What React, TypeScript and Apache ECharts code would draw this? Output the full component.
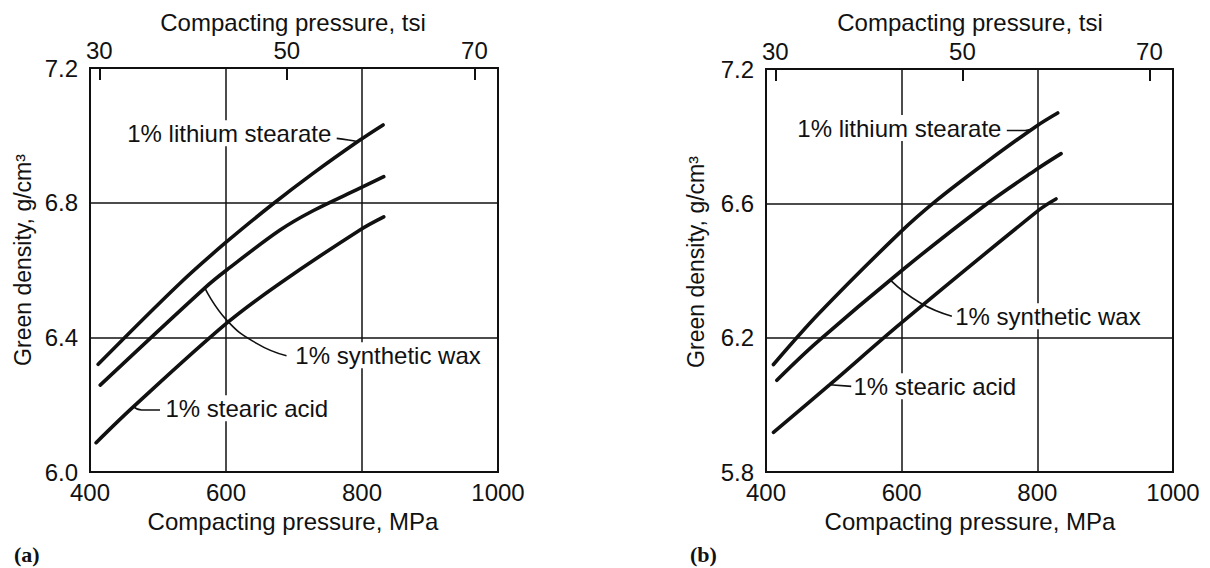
import React, { useEffect, useRef } from "react";
import * as echarts from "echarts";

// ---- data ----
const MPA_PER_TSI = 13.79;
const pressureTicks = [400, 600, 800, 1000];
const tsiTicks = [30, 50, 70];
const densityTicksA = ["6.0", "6.4", "6.8", "7.2"];
const densityTicksB = ["5.8", "6.2", "6.6", "7.2"];

// Panel (a)
const lithiumA_p = [412, 532, 601, 667, 728, 797, 831];
const lithiumA_d = [6.32, 6.56, 6.684, 6.793, 6.887, 6.986, 7.031];
const waxA_p = [415, 569, 601, 679, 728, 797, 832];
const waxA_d = [6.258, 6.547, 6.6, 6.718, 6.776, 6.843, 6.877];
const stearicA_p = [409, 464, 601, 679, 797, 832];
const stearicA_d = [6.087, 6.194, 6.442, 6.56, 6.719, 6.758];

// Panel (b)
const lithiumB_p = [411, 479, 597, 651, 724.5, 798, 830];
const lithiumB_d = [6.12, 6.274, 6.512, 6.608, 6.722, 6.829, 6.869];
const waxB_p = [416, 474.5, 602, 720, 798, 835];
const waxB_d = [6.073, 6.185, 6.403, 6.59, 6.7, 6.748];
const stearicB_p = [411, 494, 599.5, 803, 827.5];
const stearicB_d = [5.918, 6.06, 6.244, 6.581, 6.613];

const curveNames = ["1% lithium stearate", "1% synthetic wax", "1% stearic acid"];

// label anchors (data coords) and their side
const labelA_p = [757.8, 699, 508];
const labelA_d = [7.006, 6.347, 6.189];
const labelB_p = [750, 676, 526];
const labelB_d = [6.824, 6.264, 6.055];
const labelSide = ["left", "right", "right"];

// leader lines (data coords)
const leaderA = [
  [[762.8, 6.991], [780, 6.986], [794.6, 6.981]],
  [[569, 6.546], [601, 6.451], [645, 6.382], [689, 6.345]],
  [[463.7, 6.194], [476, 6.184], [503, 6.184]],
];
const leaderB = [
  [[755, 6.817], [782, 6.817], [797, 6.829]],
  [[583, 6.372], [627, 6.304], [674, 6.264]],
  [[494, 6.06], [526, 6.055]],
];

const FONT = "'Liberation Sans', Arial, Helvetica, sans-serif";
const INK = "#111";

const zip = (xs: number[], ys: number[]) => xs.map((x, i) => [x, ys[i]]);

export default function App() {
  const ref = useRef<HTMLDivElement>(null);

  useEffect(() => {
    if (!ref.current) return;
    const chart = echarts.init(ref.current, undefined, { renderer: "svg" });

    const grids = [
      { left: 90, top: 68, width: 408, height: 404 },
      { left: 766, top: 69, width: 407, height: 403 },
    ].map((g) => ({
      ...g,
      show: true,
      borderColor: "#111",
      borderWidth: 2,
      backgroundColor: "transparent",
    }));

    const bottomAxis = (gi: number) => ({
      type: "value",
      gridIndex: gi,
      position: "bottom",
      min: pressureTicks[0],
      max: pressureTicks[pressureTicks.length - 1],
      interval: pressureTicks[1] - pressureTicks[0],
      axisLine: { show: false },
      axisTick: { show: false },
      axisLabel: {
        fontSize: 24,
        color: INK,
        fontFamily: FONT,
        margin: 8,
        formatter: (v: number) => String(v),
      },
      splitLine: { show: true, lineStyle: { color: "#111", width: 1.5 } },
    });
    const topAxis = (gi: number) => ({
      type: "value",
      gridIndex: gi,
      position: "top",
      min: pressureTicks[0] / MPA_PER_TSI,
      max: pressureTicks[pressureTicks.length - 1] / MPA_PER_TSI,
      axisLine: { show: false },
      axisTick: {
        show: true,
        inside: true,
        length: 12,
        customValues: tsiTicks,
        lineStyle: { color: "#111", width: 2 },
      },
      axisLabel: {
        customValues: tsiTicks,
        fontSize: 24,
        color: INK,
        fontFamily: FONT,
        margin: 6,
        formatter: (v: number) => String(v),
      },
      splitLine: { show: false },
    });
    const leftAxis = (gi: number, labels: string[], min: number) => ({
      type: "value",
      gridIndex: gi,
      min,
      max: min + 0.4 * (labels.length - 1),
      interval: 0.4,
      axisLine: { show: false },
      axisTick: { show: false },
      axisLabel: {
        fontSize: 24,
        color: INK,
        fontFamily: FONT,
        margin: 12,
        formatter: (v: number) => labels[Math.round((v - min) / 0.4)] ?? "",
      },
      splitLine: { show: true, lineStyle: { color: "#111", width: 1.5 } },
    });

    const panels = [
      {
        xi: 0,
        yi: 0,
        curves: [zip(lithiumA_p, lithiumA_d), zip(waxA_p, waxA_d), zip(stearicA_p, stearicA_d)],
        lp: labelA_p,
        ld: labelA_d,
        leaders: leaderA,
      },
      {
        xi: 2,
        yi: 1,
        curves: [zip(lithiumB_p, lithiumB_d), zip(waxB_p, waxB_d), zip(stearicB_p, stearicB_d)],
        lp: labelB_p,
        ld: labelB_d,
        leaders: leaderB,
      },
    ];

    const series: any[] = [];
    panels.forEach((p) => {
      p.curves.forEach((data, i) => {
        series.push({
          type: "line",
          name: curveNames[i],
          xAxisIndex: p.xi,
          yAxisIndex: p.yi,
          data,
          smooth: 0.35,
          symbol: "none",
          silent: true,
          z: 3,
          lineStyle: { color: "#111", width: 3.6, cap: "round" },
        });
      });
      p.leaders.forEach((data) => {
        series.push({
          type: "line",
          xAxisIndex: p.xi,
          yAxisIndex: p.yi,
          data,
          smooth: 0.5,
          symbol: "none",
          silent: true,
          z: 3,
          lineStyle: { color: "#111", width: 1.6 },
        });
      });
      series.push({
        type: "scatter",
        xAxisIndex: p.xi,
        yAxisIndex: p.yi,
        symbolSize: 0,
        silent: true,
        z: 4,
        itemStyle: { opacity: 1, color: "#111" },
        data: curveNames.map((n, i) => ({
          name: n,
          value: [p.lp[i], p.ld[i]],
          label: { position: labelSide[i] },
        })),
        label: {
          show: true,
          formatter: "{b}",
          distance: 0,
          fontSize: 24,
          fontFamily: FONT,
          color: INK,
          opacity: 1,
          backgroundColor: "#fff",
          padding: [1, 2],
        },
      });
    });

    const title = (text: string, x: number, y: number, rotate = false, size = 24) => ({
      type: "text",
      x,
      y,
      rotation: rotate ? Math.PI / 2 : 0,
      style: {
        text,
        fontSize: size,
        fontFamily: FONT,
        fill: INK,
        align: "center",
        verticalAlign: "middle",
      },
    });
    const panelTag = (text: string, x: number, y: number) => ({
      type: "text",
      x,
      y,
      style: {
        text,
        fontSize: 22,
        fontWeight: "bold",
        fontFamily: "'Liberation Serif', 'Times New Roman', serif",
        fill: INK,
        align: "left",
        verticalAlign: "middle",
      },
    });

    chart.setOption({
      animation: false,
      backgroundColor: "#fff",
      grid: grids,
      xAxis: [bottomAxis(0), topAxis(0), bottomAxis(1), topAxis(1)],
      yAxis: [leftAxis(0, densityTicksA, 6.0), leftAxis(1, densityTicksB, 5.8)],
      series,
      graphic: [
        title("Compacting pressure, tsi", 293, 22),
        title("Compacting pressure, tsi", 970, 22),
        title("Compacting pressure, MPa", 293, 521),
        title("Compacting pressure, MPa", 970, 521),
        title("Green density, g/cm³", 23, 260, true, 23),
        title("Green density, g/cm³", 696, 262, true, 23),
        panelTag("(a)", 14, 554),
        panelTag("(b)", 690, 554),
      ],
    });

    return () => chart.dispose();
  }, []);

  return (
    <div
      ref={ref}
      style={{ position: "absolute", left: 0, top: 0, width: 1210, height: 568 }}
    />
  );
}
